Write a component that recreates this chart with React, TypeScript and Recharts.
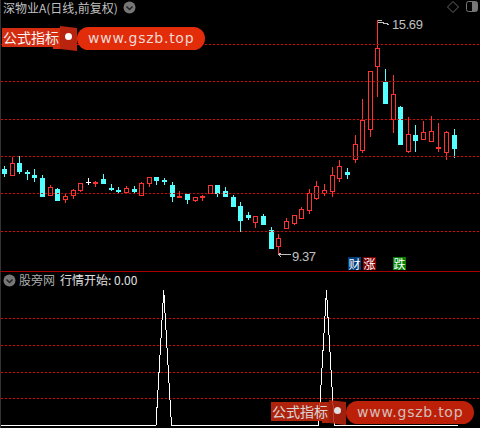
import React from "react";
import { ComposedChart, Bar, Line, XAxis, YAxis, ReferenceLine } from "recharts";

const opens = [
  11.67, 11.48, 11.83, 11.59, 11.51, 11.42, 10.94, 11.13, 10.83, 10.94,
  11.07, 11.32, 11.26, 11.40, 11.15, 11.10, 11.02, 11.13, 10.94, 11.26,
  11.45, 11.37, 11.24, 10.88, 10.99, 10.80, 10.88, 10.99, 11.24, 11.07,
  10.91, 10.67, 10.43, 10.21, 10.40, 10.02, 9.56, 10.05, 10.18, 10.32,
  10.53, 10.86, 10.99, 11.05, 11.40, 11.59, 11.91, 12.15, 12.72, 14.42,
  14.02, 12.99, 13.34, 12.13, 12.59, 12.45, 12.40, 12.21, 12.10, 12.59,
];
const closes = [
  11.53, 11.83, 11.59, 11.53, 11.42, 10.91, 11.18, 10.80, 10.94, 11.10,
  11.29, 11.32, 11.32, 11.26, 11.10, 11.05, 11.15, 11.05, 11.29, 11.45,
  11.34, 11.32, 10.91, 10.94, 10.83, 10.91, 10.94, 11.24, 10.99, 10.91,
  10.64, 10.26, 10.34, 10.40, 10.16, 9.51, 9.80, 10.26, 10.43, 10.59,
  11.02, 11.21, 11.10, 11.51, 11.75, 11.51, 12.34, 12.99, 14.31, 14.93,
  13.42, 13.69, 12.32, 12.61, 12.42, 12.67, 12.69, 12.26, 12.67, 12.21,
];
const highs = [
  11.75, 11.99, 12.02, 11.64, 11.67, 11.51, 11.24, 11.15, 11.02, 11.13,
  11.29, 11.42, 11.34, 11.53, 11.26, 11.18, 11.21, 11.21, 11.32, 11.45,
  11.45, 11.42, 11.32, 11.07, 10.99, 10.91, 10.97, 11.24, 11.24, 11.18,
  10.97, 10.78, 10.51, 10.40, 10.45, 10.10, 9.91, 10.34, 10.43, 10.64,
  11.13, 11.34, 11.26, 11.72, 11.91, 11.69, 12.59, 13.56, 14.31, 15.69,
  14.37, 14.21, 13.37, 13.07, 12.86, 12.96, 13.10, 12.91, 12.69, 12.75,
];
const lows = [
  11.45, 11.48, 11.53, 11.37, 11.32, 10.91, 10.94, 10.80, 10.75, 10.86,
  11.05, 11.24, 11.18, 11.26, 11.07, 10.99, 11.02, 11.02, 10.94, 11.18,
  11.24, 11.24, 10.78, 10.88, 10.72, 10.78, 10.80, 10.99, 10.91, 10.91,
  10.64, 9.97, 10.29, 10.07, 10.16, 9.51, 9.37, 10.05, 10.16, 10.32,
  10.45, 10.83, 10.94, 10.91, 11.32, 11.40, 11.83, 12.10, 12.53, 13.61,
  13.42, 12.64, 12.32, 12.10, 12.13, 12.45, 12.40, 12.13, 11.91, 11.96,
];
const signal = [
  0, 0, 0, 0, 0, 0, 0, 0, 0, 0, 0, 0, 0, 0, 0, 0, 0, 0, 0, 0,
  0, 1, 0, 0, 0, 0, 0, 0, 0, 0, 0, 0, 0, 0, 0, 0, 0, 0, 0, 0,
  0, 0, 1, 0, 0, 0, 0, 0, 0, 0, 0, 0, 0, 0, 0, 0, 0, 0, 0, 0,
];
const priceGrid = [15.0285, 14.0295, 13.0035, 12.0045, 11.0055, 9.9795];
const signalGrid = [0.7926, 0.5926, 0.3926, 0.2];

const rows = opens.map((open, idx) => ({
  idx,
  open,
  close: closes[idx],
  high: highs[idx],
  low: lows[idx],
  signal: signal[idx],
}));

const maxHigh = Math.max(...highs);
const minLow = Math.min(...lows);

const RED = "#ff3232";
const CYAN = "#54ffff";
const GREY = "#c0c0c0";
const GRID = "#e00000";
const sans = "'Liberation Sans', 'Noto Sans CJK SC', sans-serif";
const cjk = "'Noto Sans CJK SC', sans-serif";

function Candle(props: any) {
  const { x, y, width, height, payload } = props;
  const { open, close, high, low } = payload;
  const col = Math.floor(x + width / 2);
  const yOf = (p: number) => Math.round(y + ((high - p) / (high - low)) * height);
  const top = yOf(high);
  const bottom = yOf(low);
  const bodyTop = yOf(Math.max(open, close));
  const bodyBottom = yOf(Math.min(open, close));
  const rising = close > open;
  const color = open === close ? "#ffffff" : rising ? RED : CYAN;
  return (
    <g shapeRendering="crispEdges">
      <rect x={col} y={top} width={1} height={Math.max(bodyTop - top, 0)} fill={color} />
      <rect x={col} y={bodyBottom} width={1} height={Math.max(bottom - bodyBottom, 0)} fill={color} />
      {bodyBottom - bodyTop < 3 ? (
        <rect x={col - 2} y={bodyTop} width={5} height={Math.max(bodyBottom - bodyTop, 1)} fill={color} />
      ) : rising ? (
        <rect x={col - 1.5} y={bodyTop + 0.5} width={4} height={bodyBottom - bodyTop - 1} fill="#000" stroke={color} />
      ) : (
        <rect x={col - 2} y={bodyTop} width={5} height={bodyBottom - bodyTop} fill={color} />
      )}
      {high === maxHigh && (
        <g>
          <path
            d={`M${col + 0.5} ${top + 0.5}h4M${col + 0.5} ${top + 2.5}h3M${col + 4.5} ${top + 2.5}l8 2`}
            stroke={GREY}
            fill="none"
          />
          <text x={col + 15} y={top + 9} fill={GREY} fontSize={13} letterSpacing={-0.4} fontFamily={sans}>
            {high.toFixed(2)}
          </text>
        </g>
      )}
      {low === minLow && (
        <g>
          <path
            d={`M${col + 0.5} ${bottom + 0.5}h12M${col + 0.5} ${bottom + 0.5}l3 -2M${col + 0.5} ${bottom + 0.5}l3 3`}
            stroke={GREY}
            fill="none"
          />
          <text x={col + 14} y={bottom + 7} fill={GREY} fontSize={13} letterSpacing={-0.4} fontFamily={sans}>
            {low.toFixed(2)}
          </text>
        </g>
      )}
    </g>
  );
}

function Chevron({ left, top }: { left: number; top: number }) {
  return (
    <svg style={{ position: "absolute", left, top }} width={13} height={13}>
      <circle cx={6.5} cy={6.5} r={6} fill="#777" />
      <path d="M3.5 5.5l3 3 3-3" stroke="#222" strokeWidth={1.5} fill="none" />
    </svg>
  );
}

function Label({ left, top, color, size, font, children }: any) {
  return (
    <div
      style={{
        position: "absolute",
        left,
        top,
        color,
        fontSize: size,
        fontFamily: font || cjk,
        lineHeight: "16px",
        whiteSpace: "nowrap",
      }}
    >
      {children}
    </div>
  );
}

function Tag({ left, bg, children }: any) {
  return (
    <div
      style={{
        position: "absolute",
        left,
        top: 257,
        width: 13,
        height: 13,
        background: bg,
        color: "#fff",
        fontSize: 12,
        lineHeight: "13px",
        textAlign: "center",
        fontFamily: cjk,
      }}
    >
      {children}
    </div>
  );
}

function Banner({ left, top, opacity, pill, flag }: any) {
  return (
    <div style={{ position: "absolute", left, top, width: 204, height: 26, opacity }}>
      <div
        style={{
          position: "absolute",
          left: 0,
          top: 2,
          width: 58,
          height: 21,
          background: flag,
          clipPath: "polygon(0 0, 100% 0, 100% 100%, 88% 100%, 88% 90%, 0 90%)",
        }}
      />
      <div
        style={{
          position: "absolute",
          left: 58,
          top: 0,
          width: 17,
          height: 25,
          background: "#b8240e",
          clipPath: "polygon(0 0, 100% 8%, 100% 100%, 0 92%)",
        }}
      />
      <div
        style={{
          position: "absolute",
          left: 63,
          top: 7,
          width: 7,
          height: 7,
          borderRadius: 4,
          background: "#fff",
        }}
      />
      <div
        style={{
          position: "absolute",
          left: 75,
          top: 1,
          width: 128,
          height: 23,
          borderRadius: 12,
          background: pill,
        }}
      />
      <Label left={1} top={3} color="#f4f4f4" size={14}>
        公式指标
      </Label>
      <Label left={86} top={4} color="#f0d8d2" size={14} font="'DejaVu Sans', sans-serif">
        <span style={{ letterSpacing: 0.75 }}>www.gszb.top</span>
      </Label>
    </div>
  );
}

export default function App() {
  return (
    <div
      style={{
        position: "absolute",
        left: 0,
        top: 0,
        width: 480,
        height: 428,
        background: "#000",
        overflow: "hidden",
      }}
    >
      <div style={{ position: "absolute", left: 0, top: 0 }}>
        <ComposedChart
          width={480}
          height={271}
          data={rows}
          margin={{ top: 0, right: 0, bottom: 0, left: 1 }}
        >
          <XAxis dataKey="idx" hide padding={{ left: 0, right: 21.8 }} />
          <YAxis hide type="number" domain={[8.913, 16.23]} allowDataOverflow />
          {priceGrid.map((v) => (
            <ReferenceLine key={v} y={v} stroke={GRID} strokeDasharray="2 2" />
          ))}
          <Bar
            dataKey={(d: any) => [d.low, d.high]}
            barSize={5}
            shape={<Candle />}
            isAnimationActive={false}
          />
        </ComposedChart>
      </div>

      <div style={{ position: "absolute", left: 0, top: 271, width: 480, height: 1, background: "#a80000" }} />

      <div style={{ position: "absolute", left: 0, top: 271 }}>
        <ComposedChart
          width={480}
          height={157}
          data={rows}
          margin={{ top: 19.5, right: 0, bottom: 2.5, left: 1 }}
        >
          <XAxis dataKey="idx" hide padding={{ left: 0, right: 21.8 }} />
          <YAxis hide type="number" domain={[0, 1]} />
          {signalGrid.map((v) => (
            <ReferenceLine key={v} y={v} stroke={GRID} strokeDasharray="2 2" />
          ))}
          <Line
            dataKey="signal"
            type="linear"
            stroke="#ffffff"
            strokeWidth={1}
            dot={false}
            shapeRendering="crispEdges"
            isAnimationActive={false}
          />
        </ComposedChart>
      </div>

      <div style={{ position: "absolute", left: 0, top: 0, width: 1, height: 428, background: "#333" }} />

      <Label left={3} top={0} color={GREY} size={12}>
        深物业A(日线,前复权)
      </Label>
      <Chevron left={123} top={1} />
      <svg style={{ position: "absolute", left: 446, top: 0 }} width={34} height={14}>
        <path d="M7 1.5l5.5 5.5-5.5 5.5-5.5-5.5z" stroke="#666" fill="none" />
        <rect x={20.5} y={1.5} width={11} height={10} rx={2} stroke="#777" fill="none" />
        <rect x={26} y={2} width={5} height={9} fill="#777" />
      </svg>

      <Chevron left={3} top={274} />
      <Label left={19} top={272} color="#aaaaaa" size={12}>
        股旁网
      </Label>
      <Label left={60} top={272} color="#e0e0e0" size={12}>
        行情开始: 0.00
      </Label>

      <Tag left={348} bg="#003c78">财</Tag>
      <Tag left={363} bg="#800000">涨</Tag>
      <Tag left={393} bg="#007f00">跌</Tag>

      <Banner left={2} top={26} opacity={1} pill="#e32c0a" flag="#d42c10" />
      <Banner left={271} top={400} opacity={0.88} pill="#d8250a" flag="#c8280f" />
    </div>
  );
}
